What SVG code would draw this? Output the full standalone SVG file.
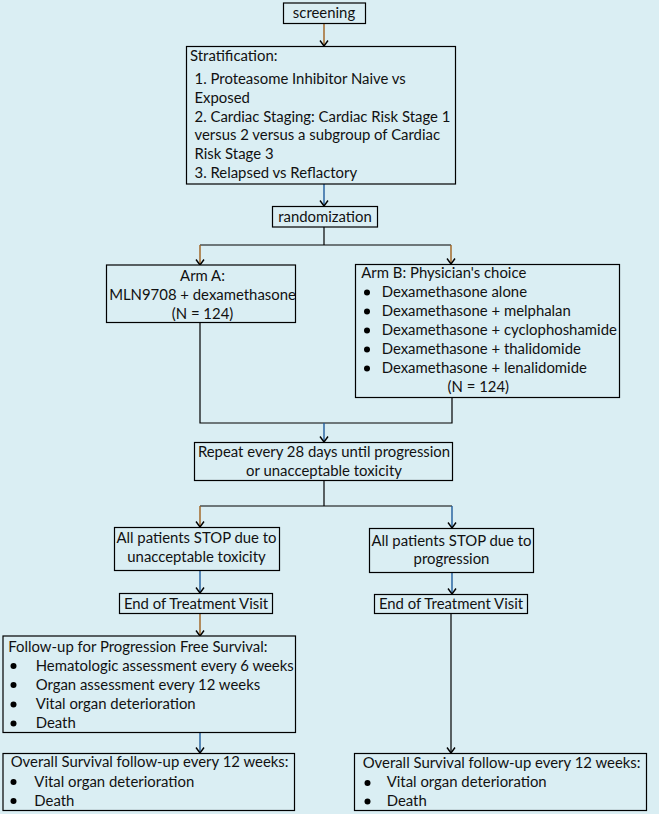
<svg xmlns="http://www.w3.org/2000/svg" width="659" height="814" viewBox="0 0 659 814">
<style>
.bx{fill:#daeef3;stroke:#000;stroke-width:1.2}
text{font-family:Lato,"Liberation Sans",sans-serif;font-size:14.9px;fill:#111}
.c{text-anchor:middle}
.ln{stroke:#000;stroke-width:1.2;fill:none}
.br{stroke:#a0601c;stroke-width:1.4;fill:none}
.bl{stroke:#1f5c9c;stroke-width:1.4;fill:none}
.dot{fill:#000}
</style>
<defs>
<marker id="ah" markerUnits="userSpaceOnUse" markerWidth="8" markerHeight="10" refX="6.5" refY="5" orient="auto" viewBox="0 0 8 10">
<path d="M1,1 L6.5,5 L1,9" fill="none" stroke="#000" stroke-width="1.4"/>
</marker>
</defs>
<rect width="659" height="814" fill="#daeef3"/>
<g id="connectors">
<line class="br" x1="324" y1="24" x2="324" y2="46" marker-end="url(#ah)"/>
<line class="bl" x1="324" y1="184" x2="324" y2="206" marker-end="url(#ah)"/>
<polyline class="ln" points="324,227 324,245"/>
<polyline class="ln" points="200,245 451,245"/>
<line class="br" x1="200" y1="245" x2="200" y2="265" marker-end="url(#ah)"/>
<line class="br" x1="451" y1="245" x2="451" y2="264" marker-end="url(#ah)"/>
<polyline class="ln" points="200,322 200,423 452,423 452,397"/>
<line class="bl" x1="324" y1="423" x2="324" y2="442" marker-end="url(#ah)"/>
<polyline class="ln" points="324,481 324,506"/>
<polyline class="ln" points="200,506 452,506"/>
<line class="br" x1="200" y1="506" x2="200" y2="527" marker-end="url(#ah)"/>
<line class="bl" x1="452" y1="506" x2="452" y2="528" marker-end="url(#ah)"/>
<line class="bl" x1="200" y1="570" x2="200" y2="593" marker-end="url(#ah)"/>
<line class="bl" x1="452" y1="572" x2="452" y2="594" marker-end="url(#ah)"/>
<line class="br" x1="200" y1="614" x2="200" y2="636" marker-end="url(#ah)"/>
<line class="bl" x1="200" y1="732" x2="200" y2="753" marker-end="url(#ah)"/>
<line class="ln" x1="451" y1="614" x2="451" y2="753" marker-end="url(#ah)"/>
</g>
<g id="screening">
<rect class="bx" x="283.5" y="3" width="82" height="20.5"/>
<text class="c" x="324" y="18">screening</text>
</g>
<g id="stratification">
<rect class="bx" x="186.5" y="46.5" width="269" height="137.5"/>
<text x="190" y="61">Stratification:</text>
<text x="194.5" y="84">1. Proteasome Inhibitor Naive vs</text>
<text x="194.5" y="102.5">Exposed</text>
<text x="194.5" y="121.5">2. Cardiac Staging: Cardiac Risk Stage 1</text>
<text x="194.5" y="140">versus 2 versus a subgroup of Cardiac</text>
<text x="194.5" y="159">Risk Stage 3</text>
<text x="194.5" y="178">3. Relapsed vs Reflactory</text>
</g>
<g id="randomization">
<rect class="bx" x="272.5" y="206.5" width="105" height="20.5"/>
<text class="c" x="325" y="221.5">randomization</text>
</g>
<g id="armA">
<rect class="bx" x="106.5" y="265" width="189" height="57.5"/>
<text class="c" x="202.5" y="280.7">Arm A:</text>
<text class="c" x="202.5" y="300">MLN9708 + dexamethasone</text>
<text class="c" x="202.5" y="318.7">(N = 124)</text>
</g>
<g id="armB">
<rect class="bx" x="355.5" y="264.5" width="264" height="133"/>
<text x="361.3" y="278.3">Arm B: Physician's choice</text>
<circle class="dot" cx="367" cy="292.5" r="3"/>
<circle class="dot" cx="367" cy="311.5" r="3"/>
<circle class="dot" cx="367" cy="330.5" r="3"/>
<circle class="dot" cx="367" cy="349.5" r="3"/>
<circle class="dot" cx="367" cy="368.5" r="3"/>
<text x="381.7" y="297">Dexamethasone alone</text>
<text x="381.7" y="316">Dexamethasone + melphalan</text>
<text x="381.7" y="335">Dexamethasone + cyclophoshamide</text>
<text x="381.7" y="354">Dexamethasone + thalidomide</text>
<text x="381.7" y="373">Dexamethasone + lenalidomide</text>
<text class="c" x="478.3" y="392">(N = 124)</text>
</g>
<g id="repeat">
<rect class="bx" x="194.5" y="442.5" width="258" height="38"/>
<text class="c" x="324" y="456.7">Repeat every 28 days until progression</text>
<text class="c" x="324" y="475.7">or unacceptable toxicity</text>
</g>
<g id="stopTox">
<rect class="bx" x="114.5" y="527.5" width="165" height="43"/>
<text class="c" x="196.5" y="543.3">All patients STOP due to</text>
<text class="c" x="196.5" y="562.3">unacceptable toxicity</text>
</g>
<g id="stopProg">
<rect class="bx" x="369.5" y="528.5" width="164" height="44"/>
<text class="c" x="451.5" y="545.7">All patients STOP due to</text>
<text class="c" x="451.5" y="564.3">progression</text>
</g>
<g id="eotLeft">
<rect class="bx" x="119.5" y="593.5" width="153" height="20"/>
<text class="c" x="196" y="609">End of Treatment Visit</text>
</g>
<g id="eotRight">
<rect class="bx" x="374.5" y="594.5" width="153" height="19"/>
<text class="c" x="451" y="609">End of Treatment Visit</text>
</g>
<g id="pfs">
<rect class="bx" x="3" y="636" width="292.5" height="96.5"/>
<text x="8.3" y="651.7">Follow-up for Progression Free Survival:</text>
<circle class="dot" cx="13.5" cy="666" r="3"/>
<circle class="dot" cx="13.5" cy="685" r="3"/>
<circle class="dot" cx="13.5" cy="704.5" r="3"/>
<circle class="dot" cx="13.5" cy="723.5" r="3"/>
<text x="35.7" y="670.7">Hematologic assessment every 6 weeks</text>
<text x="35.7" y="690">Organ assessment every 12 weeks</text>
<text x="35.7" y="709">Vital organ deterioration</text>
<text x="35.7" y="728">Death</text>
</g>
<g id="osLeft">
<rect class="bx" x="3" y="753.5" width="291.5" height="57"/>
<text x="10.7" y="767.3">Overall Survival follow-up every 12 weeks:</text>
<circle class="dot" cx="13.5" cy="782" r="3"/>
<circle class="dot" cx="13.5" cy="801" r="3"/>
<text x="34.3" y="786.7">Vital organ deterioration</text>
<text x="34.3" y="805.7">Death</text>
</g>
<g id="osRight">
<rect class="bx" x="354.5" y="753.5" width="292" height="57"/>
<text x="362.7" y="768.3">Overall Survival follow-up every 12 weeks:</text>
<circle class="dot" cx="367.5" cy="783" r="3"/>
<circle class="dot" cx="367.5" cy="801.5" r="3"/>
<text x="386.7" y="787">Vital organ deterioration</text>
<text x="386.7" y="805.7">Death</text>
</g>
</svg>
